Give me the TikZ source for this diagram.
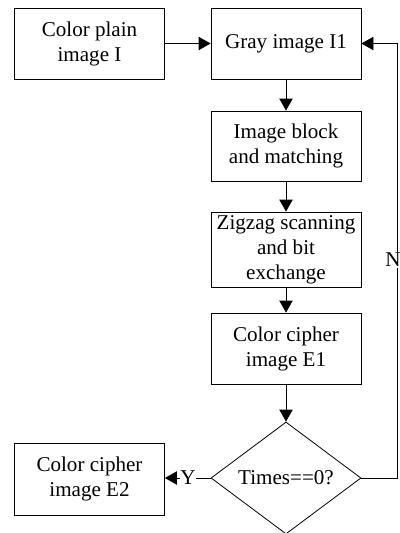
\documentclass[tikz,border=0pt]{standalone}
\usepackage{fontspec}
\setmainfont{Liberation Serif}
\usetikzlibrary{arrows.meta,shapes.geometric}
\tikzset{
  txt/.style={font=\fontsize{15.8pt}{18.75pt}\selectfont},
  box/.style={txt, draw, line width=0.6pt, minimum width=112.5pt, align=center, inner sep=1pt},
  dec/.style={txt, draw, line width=0.6pt, shape=diamond, minimum width=112.5pt, minimum height=84pt, inner sep=0pt},
  arr/.style={line width=0.6pt, -{Triangle[length=9pt,width=10pt]}},
  lab/.style={txt, fill=white, inner sep=0.5pt}
}
\begin{document}
\begin{tikzpicture}[x=0.75pt,y=-0.75pt]
\useasboundingbox (0,0) rectangle (400,533);
\node[box, minimum height=53.25pt] (c1) at (89.5,43.5) {Color plain\\image I};
\node[box, minimum height=53.25pt] (gray) at (286,43.5) {Gray image I1};
\node[box, minimum height=52.5pt] (block) at (286,146) {Image block\\and matching};
\node[box, minimum height=56.25pt] (zig) at (286,249.5) {Zigzag scanning\\and bit\\exchange};
\node[box, minimum height=53.25pt] (e1) at (286,348.5) {Color cipher\\image E1};
\node[dec] (dia) at (286,478) {Times==0?};
\node[box, minimum height=54pt] (e2) at (89.5,479) {Color cipher\\image E2};
\coordinate (rt) at (397,43.5);
\draw[arr] (c1) -- (gray);
\draw[arr] (gray) -- (block);
\draw[arr] (block) -- (zig);
\draw[arr] (zig) -- (e1);
\draw[arr] (e1) -- (dia);
\draw[arr] (dia.east) -| (rt) -- (gray.east);
\draw[arr] (dia.west) -- (dia.west -| e2.east);
\node[lab] (n) at (393,260) {N};
\node[lab] (y) at (188,478) {Y};
\end{tikzpicture}
\end{document}
